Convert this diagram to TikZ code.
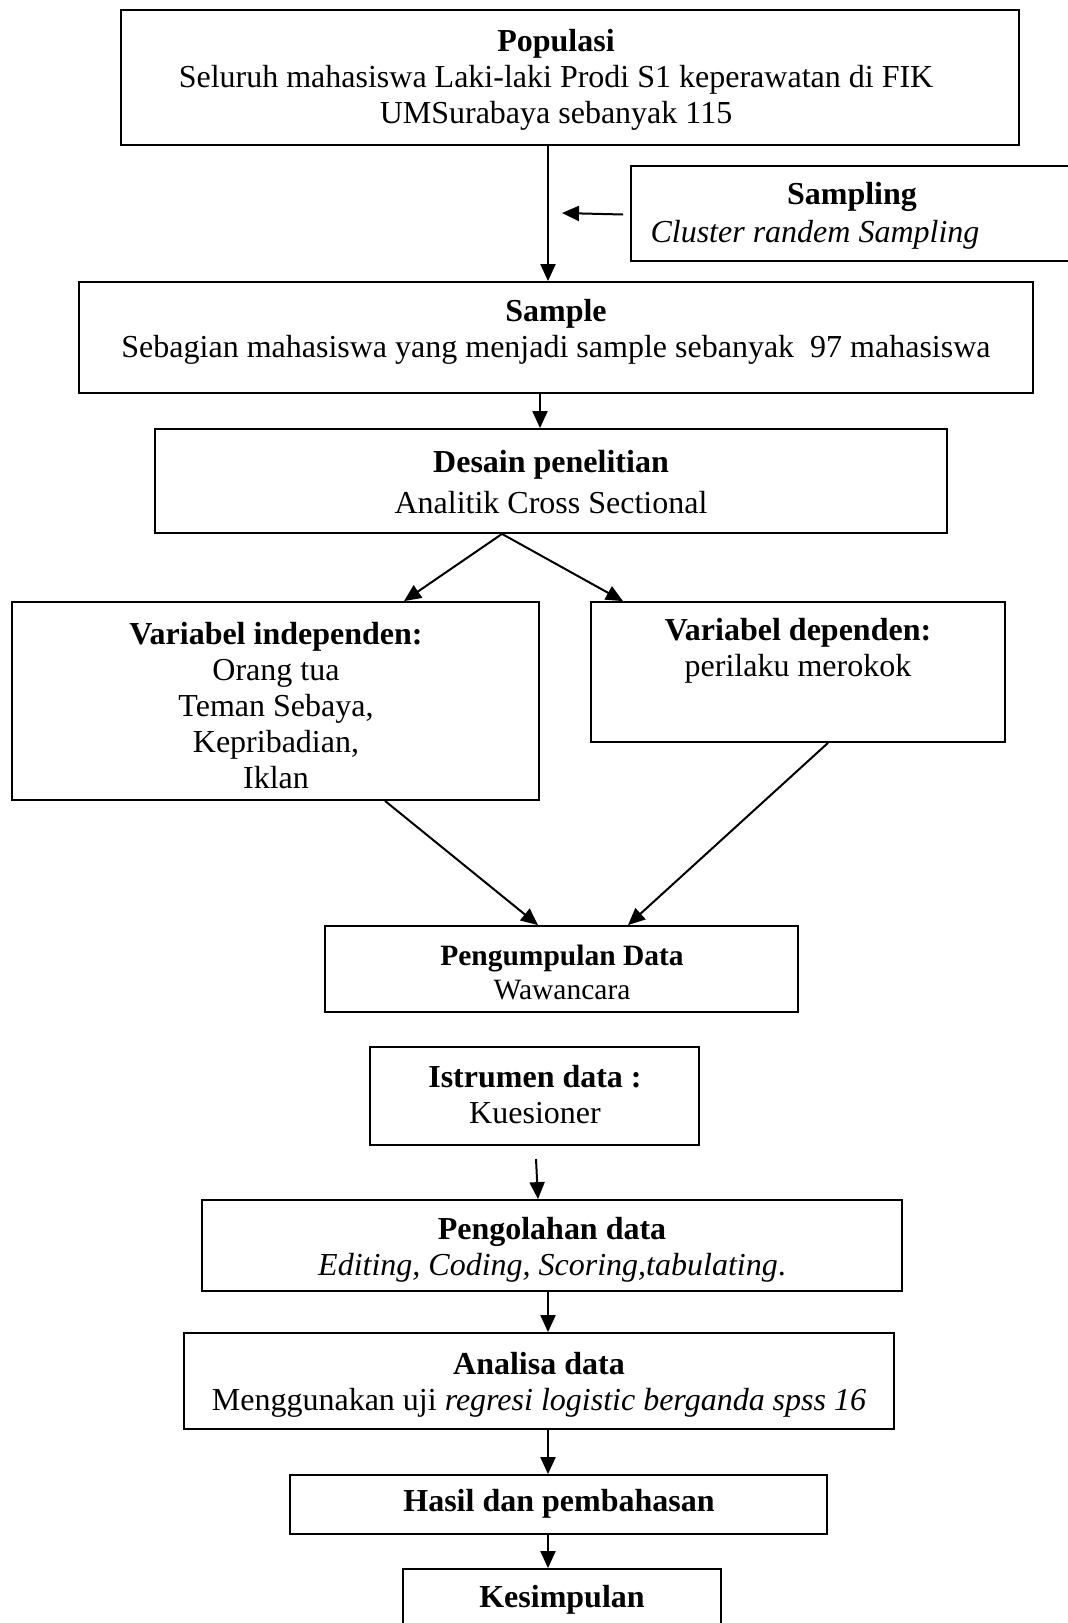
\documentclass[tikz,border=0pt]{standalone}
\usepackage{fontspec}
\setmainfont{Liberation Serif}
\usetikzlibrary{arrows.meta,calc}
\tikzset{
  box/.style={draw=black, line width=1.8pt, rectangle, inner sep=0pt, fill=none},
  txt/.style={align=center, inner sep=0pt, font=\fontsize{32}{36}\selectfont},
  arr/.style={line width=2pt, -{Triangle[length=17pt,width=15pt]}}
}
\begin{document}
\begin{tikzpicture}[x=1pt,y=-1pt]
\useasboundingbox (0,0) rectangle (1068,1623);
\clip (0,0) rectangle (1068,1623);
\fill[white] (0,0) rectangle (1068,1623);
% boxes
\node[box, minimum width=898pt, minimum height=135pt] (pop) at (570,77.5) {};
\node[box, minimum width=459pt, minimum height=95pt] (samp) at (860.5,213.5) {};
\node[box, minimum width=954pt, minimum height=111pt] (sample) at (556,337.5) {};
\node[box, minimum width=792pt, minimum height=104pt] (desain) at (551,481) {};
\node[box, minimum width=527pt, minimum height=198pt] (vind) at (275.5,701) {};
\node[box, minimum width=414pt, minimum height=140pt] (vdep) at (798,672) {};
\node[box, minimum width=473pt, minimum height=86pt] (kump) at (561.5,969) {};
\node[box, minimum width=329pt, minimum height=98pt] (istr) at (534.5,1096) {};
\node[box, minimum width=700pt, minimum height=91pt] (olah) at (552,1245.5) {};
\node[box, minimum width=710pt, minimum height=96pt] (anal) at (539,1381) {};
\node[box, minimum width=537pt, minimum height=59pt] (hasil) at (558.5,1504.5) {};
\node[box, minimum width=318pt, minimum height=91pt] (kes) at (562,1614.5) {};
% texts
\node[txt] (tpop) at (556,80) {\textbf{Populasi}\\Seluruh mahasiswa Laki-laki Prodi S1 keperawatan di FIK\\UMSurabaya sebanyak 115};
\node[txt] (tsamp1) at (852,197) {\textbf{Sampling}};
\node[txt] (tsamp2) at (815,235) {\textit{Cluster randem Sampling}};
\node[txt] (tsample) at (556,332) {\textbf{Sample}\\Sebagian mahasiswa yang menjadi sample sebanyak\ \ 97 mahasiswa};
\node[txt] (tdesain) at (551,482) {\textbf{Desain penelitian}\\[5pt]Analitik Cross Sectional};
\node[txt] (tvind) at (276,706) {\textbf{Variabel independen:}\\Orang tua\\Teman Sebaya,\\Kepribadian,\\Iklan};
\node[txt] (tvdep) at (798,651) {\textbf{Variabel dependen:}\\perilaku merokok};
\node[txt, font=\fontsize{29.5}{34}\selectfont] (tkump) at (562,972) {\textbf{Pengumpulan Data}\\Wawancara};
\node[txt] (tistr) at (535,1095) {\textbf{Istrumen data :}\\Kuesioner};
\node[txt] (tolah) at (552,1250) {\textbf{Pengolahan data}\\\textit{Editing, Coding, Scoring,tabulating}.};
\node[txt] (tanal) at (539,1385) {\textbf{Analisa data}\\Menggunakan uji \textit{regresi logistic berganda spss 16}};
\node[txt] (thasil) at (559,1504) {\textbf{Hasil dan pembahasan}};
\node[txt] (tkes) at (562,1600) {\textbf{Kesimpulan}};
% connectors
\coordinate (sampend) at (562,213);
\coordinate (istrend) at (536,1159);
\draw[arr] ([xshift=-22pt]pop.south) -- ([xshift=-8pt]sample.north);
\draw[arr] ([xshift=-7pt,yshift=-1pt]samp.west) -- (sampend);
\draw[arr] ([xshift=-16pt]sample.south) -- ([xshift=-11pt]desain.north);
\draw[arr] ([xshift=-49pt]desain.south) -- ([xshift=128.5pt]vind.north);
\draw[arr] ([xshift=-49pt]desain.south) -- ([xshift=-175pt]vdep.north);
\draw[arr] ([xshift=109.5pt]vind.south) -- ([xshift=-23.5pt]kump.north);
\draw[arr] ([xshift=30pt]vdep.south) -- ([xshift=66.5pt]kump.north);
\draw[arr] (istrend) -- ([xshift=-14pt]olah.north);
\draw[arr] ([xshift=-4pt]olah.south) -- ([xshift=9pt]anal.north);
\draw[arr] ([xshift=9pt]anal.south) -- ([xshift=-10.5pt]hasil.north);
\draw[arr] ([xshift=-10.5pt]hasil.south) -- ([xshift=-14pt]kes.north);
\end{tikzpicture}
\end{document}
